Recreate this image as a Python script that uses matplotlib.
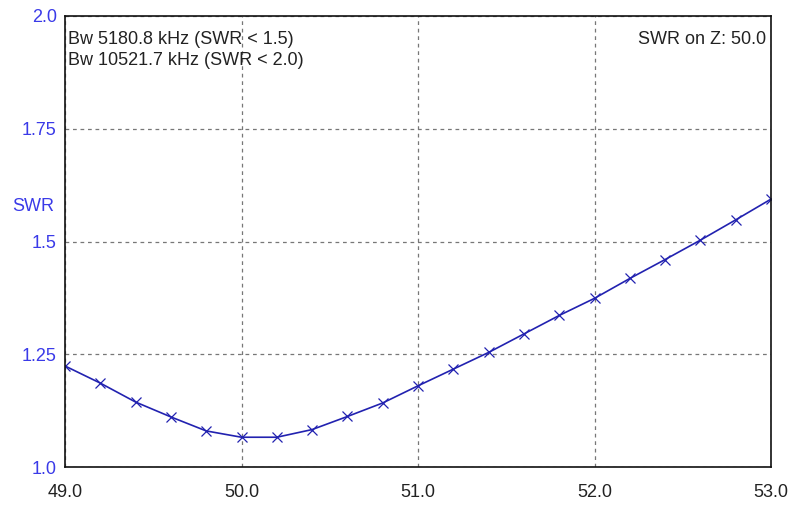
import numpy as np
import matplotlib.pyplot as plt

plt.rcParams['font.family'] = ['Liberation Sans', 'DejaVu Sans']

# SWR sweep
freq = [49.0, 49.2, 49.4, 49.6, 49.8, 50.0, 50.2, 50.4, 50.6, 50.8, 51.0,
        51.2, 51.4, 51.6, 51.8, 52.0, 52.2, 52.4, 52.6, 52.8, 53.0]
swr = [1.224, 1.186, 1.144, 1.111, 1.080, 1.066, 1.066, 1.083, 1.112, 1.142, 1.180,
       1.217, 1.254, 1.295, 1.336, 1.374, 1.418, 1.460, 1.503, 1.548, 1.594]
xticks = [49.0, 50.0, 51.0, 52.0, 53.0]
yticks = [1.0, 1.25, 1.5, 1.75, 2.0]
ytick_labels = ["1.0", "1.25", "1.5", "1.75", "2.0"]

fig = plt.figure(figsize=(7.93, 5.05), dpi=100)
ax = fig.add_axes([65/793, 38/505, 706/793, 451/505])

ax.plot(freq, swr, color='#2222b0', lw=1.2, marker='x', ms=6.5, mew=0.9)

ax.set_xlim(49, 53)
ax.set_ylim(1.0, 2.0)
ax.set_xticks(xticks)
ax.set_xticklabels(["%.1f" % x for x in xticks])
ax.set_yticks(yticks)
ax.set_yticklabels(ytick_labels)
ax.tick_params(axis='x', length=0, pad=12, labelsize=13, labelcolor='#222222')
ax.tick_params(axis='y', length=0, pad=6, labelsize=13, labelcolor='#3a3ae8')
ax.grid(True, color='#777777', ls=(0, (3, 3)), lw=0.9)

for s in ax.spines.values():
    s.set_color('#111111')
    s.set_linewidth(1.2)

fig.text(12/793, 1 - 207/505, "SWR", color='#3a3ae8', fontsize=13, va='center')

ax.text(0.004, 0.948, "Bw 5180.8 kHz (SWR < 1.5)", transform=ax.transAxes,
        fontsize=13, color='#222222', va='center')
ax.text(0.004, 0.901, "Bw 10521.7 kHz (SWR < 2.0)", transform=ax.transAxes,
        fontsize=13, color='#222222', va='center')
ax.text(0.993, 0.948, "SWR on Z: 50.0", transform=ax.transAxes,
        fontsize=13, color='#222222', va='center', ha='right')

plt.savefig("out.png", dpi=100)
